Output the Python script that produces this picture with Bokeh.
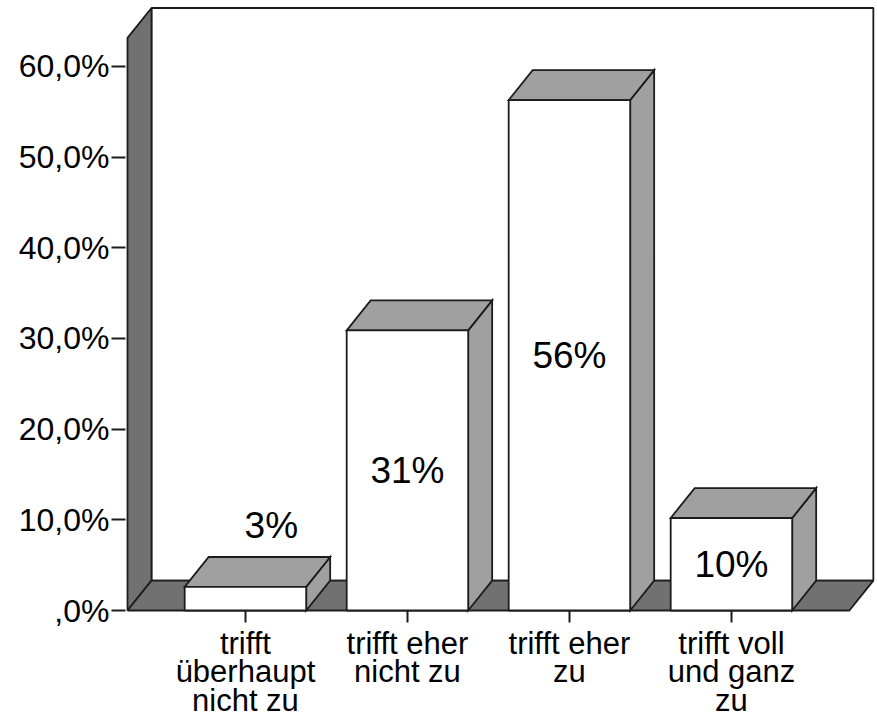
from bokeh.plotting import figure
from bokeh.models import FixedTicker, Range1d
from bokeh.embed import file_html
from bokeh.resources import INLINE
from bokeh.core.properties import value

# ---- data ----
categories = ["trifft\nüberhaupt\nnicht zu", "trifft eher\nnicht zu",
              "trifft eher\nzu", "trifft voll\nund ganz\nzu"]
cat_pos = [1, 2, 3, 4]
percent = [2.6, 30.9, 56.3, 10.2]
bar_labels = ["3%", "31%", "56%", "10%"]
y_ticks = [0, 10, 20, 30, 40, 50, 60]
y_tick_labels = [",0%", "10,0%", "20,0%", "30,0%", "40,0%", "50,0%", "60,0%"]

# ---- 3D styling constants ----
BAR_W = 0.75
DX = 0.148     # depth offset (x units)
DY = 3.3       # depth offset (y units)
XL, XR = 0.272, 4.728
WALL_TOP = 63.15
WALL_DARK = "#717171"
FACE_GREY = "#a0a0a0"
EDGE = "#1c1c1c"
LW = 1.8
FONT = "Liberation Sans"
PX_PER_X = 162.0
PX_PER_Y = 9.067
W, H = 877, 724
LEFT = 125
AXIS_PX = 610          # pixel row of the 0 % baseline

x0 = XL - 2 / PX_PER_X
y0 = -(H - AXIS_PX) / PX_PER_Y
p = figure(width=W, height=H, output_backend="svg", toolbar_location=None,
           x_range=Range1d(x0, x0 + (W - LEFT) / PX_PER_X),
           y_range=Range1d(y0, y0 + H / PX_PER_Y),
           min_border_left=LEFT, min_border_right=0, min_border_top=0,
           min_border_bottom=0, outline_line_color=None,
           background_fill_color="white", border_fill_color="white")
p.grid.visible = False

# back wall
p.patch([XL + DX, XL + DX, XR + DX, XR + DX], [DY, WALL_TOP + DY, WALL_TOP + DY, DY],
        fill_color="white", line_color=EDGE, line_width=LW)
# left wall
p.patch([XL, XL, XL + DX, XL + DX], [0, WALL_TOP, WALL_TOP + DY, DY],
        fill_color=WALL_DARK, line_color=EDGE, line_width=LW)
# floor
p.patch([XL, XR, XR + DX, XL + DX], [0, 0, DY, DY],
        fill_color=WALL_DARK, line_color=EDGE, line_width=LW)

# bars
lefts = [c - BAR_W / 2 for c in cat_pos]
rights = [c + BAR_W / 2 for c in cat_pos]
top_xs = [[l, r, r + DX, l + DX] for l, r in zip(lefts, rights)]
top_ys = [[v, v, v + DY, v + DY] for v in percent]
side_xs = [[r, r + DX, r + DX, r] for r in rights]
side_ys = [[0, DY, v + DY, v] for v in percent]
p.patches(side_xs, side_ys, fill_color=FACE_GREY, line_color=EDGE, line_width=LW,
          line_join="miter")
p.patches(top_xs, top_ys, fill_color=FACE_GREY, line_color=EDGE, line_width=LW,
          line_join="miter")
p.quad(left=lefts, right=rights, bottom=[0] * 4, top=percent,
       fill_color="white", line_color=EDGE, line_width=LW)

# value labels: inside bar middle, or above small bars
lab_x = [c + (0.16 if v < 5 else 0) for c, v in zip(cat_pos, percent)]
lab_y = [(v + DY + 3.5) if v < 5 else v / 2 for v in percent]
p.text(x=lab_x, y=lab_y, text=bar_labels, text_font=value(FONT),
       text_font_size="37px", text_align="center", text_baseline="middle",
       text_color="black")

# axes
yax = p.yaxis[0]
yax.ticker = FixedTicker(ticks=y_ticks)
yax.major_label_overrides = {t: s for t, s in zip(y_ticks, y_tick_labels)}
yax.axis_line_color = None
yax.major_tick_in = 0
yax.major_tick_out = 14
yax.major_tick_line_width = 2
yax.major_tick_line_color = EDGE
yax.minor_tick_line_color = None
yax.major_label_text_font = FONT
yax.major_label_text_font_size = "32px"
yax.major_label_text_color = "black"
yax.major_label_standoff = 2

xax = p.xaxis[0]
xax.fixed_location = 0
xax.ticker = FixedTicker(ticks=cat_pos)
xax.major_label_overrides = {t: s for t, s in zip(cat_pos, categories)}
xax.axis_line_color = None
xax.major_tick_in = 0
xax.major_tick_out = 12
xax.major_tick_line_width = 2
xax.major_tick_line_color = EDGE
xax.minor_tick_line_color = None
xax.major_label_text_font = FONT
xax.major_label_text_font_size = "31px"
xax.major_label_text_color = "black"
xax.major_label_text_line_height = 0.82
xax.major_label_standoff = 3

open("out.html", "w").write(file_html(p, INLINE))
